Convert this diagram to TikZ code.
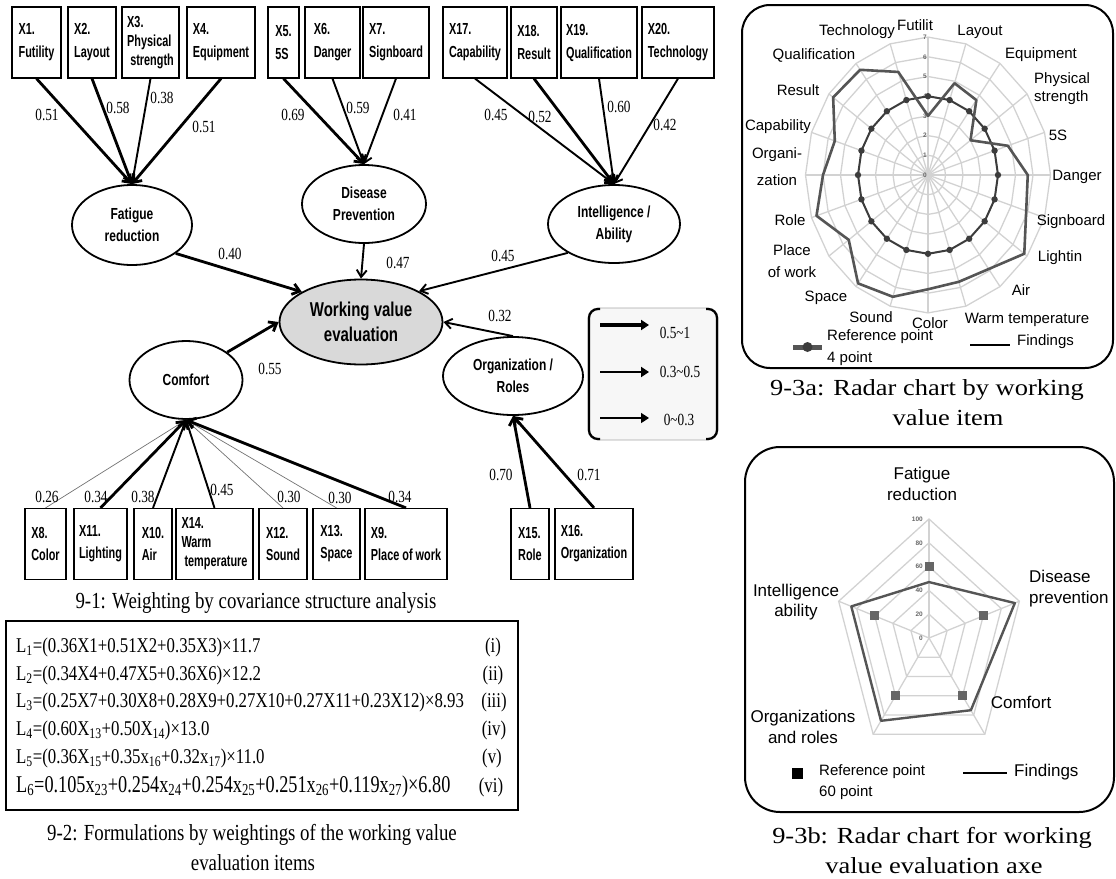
\documentclass[tikz,border=0pt]{standalone}
\usepackage{fontspec}
\setmainfont{Liberation Serif}
\newfontfamily\semfont[FakeStretch=0.75]{Liberation Sans}
\newfontfamily\boxfont[FakeStretch=0.68]{Liberation Sans}
\newfontfamily\numfont[FakeStretch=0.78]{Liberation Serif}
\newfontfamily\capfont[FakeStretch=0.82]{Liberation Serif}
\newfontfamily\eqfont[FakeStretch=0.8]{Liberation Serif}
\newfontfamily\eqwidefont[FakeStretch=0.76]{Liberation Serif}
\newfontfamily\widecapfont[FakeStretch=1.15]{Liberation Serif}
\newfontfamily\chartfont{Liberation Sans}
\usetikzlibrary{arrows.meta,shapes.geometric,calc}
\definecolor{gridgray}{HTML}{D2D2D2}
\definecolor{findgray}{HTML}{555555}
\definecolor{refgray}{HTML}{3C3C3C}
\definecolor{latentfill}{HTML}{D9D9D9}
\definecolor{legendfill}{HTML}{F7F7F7}
\newcommand\ix[1]{\textsubscript{#1}}

\begin{document}
\begin{tikzpicture}[x=1pt,y=-1pt,
  obs/.style={draw, line width=1.2pt, inner sep=0pt, minimum height=71pt, align=left,
    font=\boxfont\bfseries\fontsize{16}{19}\selectfont},
  lat/.style={draw, ellipse, line width=1.8pt, inner sep=0pt, align=center,
    font=\semfont\bfseries\fontsize{16}{22}\selectfont},
  wt/.style={font=\numfont\fontsize{17}{17}\selectfont, inner sep=0pt},
  wstrong/.style={line width=2.8pt, arrows={-Straight Barb[length=7pt,width=11pt]}},
  wmid/.style={line width=1.9pt, arrows={-Straight Barb[length=7pt,width=10pt]}},
  wweak/.style={line width=0.7pt, draw=black!55, arrows={-Straight Barb[length=5pt,width=7pt]}},
  lgarrow/.style={arrows={-Triangle[length=8pt,width=10pt]}},
  lgtext/.style={font=\numfont\fontsize{17}{17}\selectfont, inner sep=0pt},
  eqline/.style={anchor=base west, inner sep=0pt, font=\eqfont\fontsize{21}{21}\selectfont},
  eqnum/.style={anchor=base, inner sep=0pt, font=\eqfont\fontsize{21}{21}\selectfont},
  caption/.style={anchor=base, inner sep=0pt, font=\capfont\fontsize{23}{23}\selectfont},
  widecaption/.style={anchor=base, inner sep=0pt, font=\widecapfont\fontsize{23}{23}\selectfont},
  gridline/.style={draw=gridgray, line width=1.3pt},
  rlab/.style={inner sep=0pt, align=center, font=\chartfont\fontsize{15}{18}\selectfont},
  rlabb/.style={inner sep=0pt, align=center, font=\chartfont\fontsize{17}{21}\selectfont},
  tick/.style={inner sep=0pt, text=black!60, font=\chartfont\bfseries\fontsize{6.5}{7}\selectfont},
  frame/.style={line width=2pt}
]
\useasboundingbox (0,0) rectangle (1116,878);

%% ---------- covariance structure model ----------
% observed variables, top row
\node[obs, minimum width=49pt] (x1)  at (36.5,42.5) {X1.\\[4pt]Futility};
\node[obs, minimum width=48pt] (x2)  at (92,42.5)   {X2.\\[4pt]Layout};
\node[obs, minimum width=57pt] (x3)  at (150.5,42.5){X3.\\Physical\\\ strength};
\node[obs, minimum width=68pt] (x4)  at (221,42.5)  {X4.\\[4pt]Equipment};
\node[obs, minimum width=31pt] (x5)  at (283.5,42.5){X5.\\[4pt]5S};
\node[obs, minimum width=55pt] (x6)  at (332.5,42.5){X6.\\[4pt]Danger};
\node[obs, minimum width=66pt] (x7)  at (396,42.5)  {X7.\\[4pt]Signboard};
\node[obs, minimum width=64pt] (x17) at (475,42.5)  {X17.\\[4pt]Capability};
\node[obs, minimum width=46pt] (x18) at (534,42.5)  {X18.\\[4pt]Result};
\node[obs, minimum width=76pt] (x19) at (599,42.5)  {X19.\\[4pt]Qualification};
\node[obs, minimum width=72pt] (x20) at (678,42.5)  {X20.\\[4pt]Technology};

% observed variables, bottom row
\node[obs, minimum width=41pt] (x8)  at (45.5,544)  {X8.\\[3pt]Color};
\node[obs, minimum width=53pt] (x11) at (100.5,544) {X11.\\[3pt]Lighting};
\node[obs, minimum width=38pt] (x10) at (153,544)   {X10.\\[3pt]Air};
\node[obs, minimum width=77pt] (x14) at (214.5,544) {X14.\\Warm\\\ temperature};
\node[obs, minimum width=48pt] (x12) at (283,544)   {X12.\\[3pt]Sound};
\node[obs, minimum width=47pt] (x13) at (336.5,544) {X13.\\[3pt]Space};
\node[obs, minimum width=82pt] (x9)  at (406,544)   {X9.\\[3pt]Place of work};
\node[obs, minimum width=38pt] (x15) at (530,544)   {X15.\\[3pt]Role};
\node[obs, minimum width=78pt] (x16) at (594,544)   {X16.\\[3pt]Organization};

% latent variables
\node[lat, minimum width=120pt, minimum height=80pt] (fat) at (132,225) {Fatigue\\reduction};
\node[lat, minimum width=124pt, minimum height=78pt] (dis) at (364,204) {Disease\\Prevention};
\node[lat, minimum width=132pt, minimum height=78pt] (int) at (614,224) {Intelligence /\\Ability};
\node[lat, minimum width=113pt, minimum height=78pt] (com) at (186,380) {Comfort};
\node[lat, minimum width=140pt, minimum height=78pt] (org) at (513,376) {Organization /\\Roles};
\node[lat, fill=latentfill, minimum width=163pt, minimum height=85pt,
      font=\semfont\bfseries\fontsize{20}{25}\selectfont] (wve) at (361,322) {Working value\\evaluation};

% loadings onto Fatigue reduction
\draw[wstrong] (x1.south) -- (fat.north);
\draw[wstrong] (x2.south) -- (fat.north);
\draw[wmid]    (x3.south) -- (fat.north);
\draw[wstrong] (x4.south) -- (fat.north);
% loadings onto Disease Prevention
\draw[wstrong] (x5.south) -- (dis.north);
\draw[wmid]    (x6.south) -- (dis.north);
\draw[wmid]    (x7.south) -- (dis.north);
% loadings onto Intelligence / Ability
\draw[wmid]    (x17.south) -- (int.north);
\draw[wstrong] (x18.south) -- (int.north);
\draw[wmid]    (x19.south) -- (int.north);
\draw[wmid]    (x20.south) -- (int.north);
% loadings onto Comfort
\draw[wweak]   (x8.north)  -- (com.south);
\draw[wweak]   (x12.north) -- (com.south);
\draw[wweak]   (x13.north) -- (com.south);
\draw[wmid]    (x10.north) -- (com.south);
\draw[wmid]    (x14.north) -- (com.south);
\draw[wstrong] (x11.north) -- (com.south);
\draw[wstrong] (x9.north)  -- (com.south);
% loadings onto Organization / Roles
\draw[wstrong] (x15.north) -- (org.south);
\draw[wstrong] (x16.north) -- (org.south);
% paths to Working value evaluation
\draw[wstrong] (fat.-33) -- (wve.153);
\draw[wmid]    (dis.south) -- (wve.north);
\draw[wmid]    (int.212) -- (wve.28);
\draw[wmid]    (org.north) -- (wve.east);
\draw[wstrong] (com.34) -- (wve.west);

% coefficients
\node[wt] (c1)  at (47,115)  {0.51};
\node[wt] (c2)  at (118,108) {0.58};
\node[wt] (c3)  at (162,98)  {0.38};
\node[wt] (c4)  at (204,127) {0.51};
\node[wt] (c5)  at (293,115) {0.69};
\node[wt] (c6)  at (358,108) {0.59};
\node[wt] (c7)  at (405,115) {0.41};
\node[wt] (c17) at (496,115) {0.45};
\node[wt] (c18) at (540,117) {0.52};
\node[wt] (c19) at (619,107) {0.60};
\node[wt] (c20) at (665,125) {0.42};
\node[wt] (cf)  at (230,254) {0.40};
\node[wt] (cd)  at (398,263) {0.47};
\node[wt] (ci)  at (503,256) {0.45};
\node[wt] (co)  at (500,316) {0.32};
\node[wt] (cc)  at (270,369) {0.55};
\node[wt] (c8)  at (47,497)  {0.26};
\node[wt] (c11) at (96,497)  {0.34};
\node[wt] (c10) at (143,497) {0.38};
\node[wt] (c14) at (222,490) {0.45};
\node[wt] (c12) at (289,497) {0.30};
\node[wt] (c13) at (340,498) {0.30};
\node[wt] (c9)  at (400,497) {0.34};
\node[wt] (c15) at (501,475) {0.70};
\node[wt] (c16) at (589,475) {0.71};

% key of line weights
\draw[fill=legendfill, draw=black!35, line width=0.8pt, rounded corners=10] (588,308) rectangle (718,440);
\draw[line width=2.2pt, rounded corners=9] (600,309) -- (589,309) -- (589,439) -- (600,439);
\draw[line width=2.2pt, rounded corners=9] (706,309) -- (717,309) -- (717,439) -- (706,439);
\coordinate (k1s) at (600,325); \coordinate (k1e) at (649,325);
\coordinate (k2s) at (600,372); \coordinate (k2e) at (649,372);
\coordinate (k3s) at (600,418); \coordinate (k3e) at (649,418);
\draw[lgarrow, line width=3.6pt] (k1s) -- (k1e);
\draw[lgarrow, line width=2.6pt] (k2s) -- (k2e);
\draw[lgarrow, line width=1.6pt] (k3s) -- (k3e);
\node[lgtext] (k1) at (675,333) {0.5\textasciitilde1};
\node[lgtext] (k2) at (680,372) {0.3\textasciitilde0.5};
\node[lgtext] (k3) at (679,420) {0\textasciitilde0.3};

\node[caption] (cap1) at (256,608) {9-1: Weighting by covariance structure analysis};

%% ---------- formulas ----------
\draw[line width=1.2pt] (6,621) rectangle (518,810);
\node[eqline] (e1) at (16,652) {L\ix{1}=(0.36X1+0.51X2+0.35X3)×11.7};
\node[eqline] (e2) at (16,680) {L\ix{2}=(0.34X4+0.47X5+0.36X6)×12.2};
\node[eqline] (e3) at (16,707) {L\ix{3}=(0.25X7+0.30X8+0.28X9+0.27X10+0.27X11+0.23X12)×8.93};
\node[eqline] (e4) at (16,735) {L\ix{4}=(0.60X\ix{13}+0.50X\ix{14})×13.0};
\node[eqline] (e5) at (16,763) {L\ix{5}=(0.36X\ix{15}+0.35x\ix{16}+0.32x\ix{17})×11.0};
\node[eqline, font=\eqwidefont\fontsize{24}{24}\selectfont] (e6) at (16,792)
  {L\ix{6}=0.105x\ix{23}+0.254x\ix{24}+0.254x\ix{25}+0.251x\ix{26}+0.119x\ix{27})×6.80};
\node[eqnum] (n1) at (493,652) {(i)};
\node[eqnum] (n2) at (493,680) {(ii)};
\node[eqnum] (n3) at (494,707) {(iii)};
\node[eqnum] (n4) at (494,735) {(iv)};
\node[eqnum] (n5) at (492,763) {(v)};
\node[eqnum] (n6) at (491,792) {(vi)};

\node[caption] (cap2a) at (252,840) {9-2: Formulations by weightings of the working value};
\node[caption] (cap2b) at (253,870) {evaluation items};

%% ---------- radar chart by item ----------
\draw[frame, rounded corners=28] (742,5) rectangle (1113,368);
\foreach \r in {1,...,7}
  \draw[gridline] plot[samples at={0,18,...,342}] ({928+17.5*\r*cos(\x)},{175-19.7*\r*sin(\x)}) -- cycle;
\foreach \a in {0,18,...,342}
  \draw[gridline] (928,175) -- ({928+17.5*7*cos(\a)},{175-19.7*7*sin(\a)});
\foreach \v in {0,...,7}
  \node[tick] at (925,{175-19.7*\v}) {\v};
% reference level: 4 points
\draw[refgray, line width=2pt] plot[samples at={0,18,...,342}] ({928+70*cos(\x)},{175-78.8*sin(\x)}) -- cycle;
\foreach \a in {0,18,...,342}
  \fill[refgray] ({928+70*cos(\a)},{175-78.8*sin(\a)}) circle (3.2);
% findings
\foreach \v [count=\i from 0] in {3.0,4.9,4.7,3.0,4.8,5.7,5.9,6.8,5.9,5.7,5.8,6.5,6.8,5.6,6.7,6.0,5.6,6.7,6.6,5.5}
  \coordinate (fa\i) at ({928+17.5*\v*cos(90-18*\i)},{175-19.7*\v*sin(90-18*\i)});
\draw[findgray, line width=2.6pt, line join=round] (fa0) \foreach \i in {1,...,19}{ -- (fa\i)} -- cycle;
% item labels
\node[rlab] (la0)  at (915,25)  {Futilit};
\node[rlab] (la1)  at (980,32)  {Layout};
\node[rlab] (la2)  at (1041,55) {Equipment};
\node[rlab, anchor=west, align=left] (la3) at (1034,89) {Physical\\strength};
\node[rlab] (la4)  at (1058,135) {5S};
\node[rlab] (la5)  at (1077,177) {Danger};
\node[rlab] (la6)  at (1071,222) {Signboard};
\node[rlab] (la7)  at (1060,258) {Lightin};
\node[rlab] (la8)  at (1021,290) {Air};
\node[rlab] (la9)  at (1027,320) {Warm temperature};
\node[rlab] (la10) at (930,323)  {Color};
\node[rlab] (la11) at (871,317)  {Sound};
\node[rlab] (la12) at (826,298)  {Space};
\node[rlab, font=\chartfont\fontsize{15}{22}\selectfont] (la13) at (792,261) {Place\\of work};
\node[rlab] (la14) at (790,220)  {Role};
\node[rlab, font=\chartfont\fontsize{15}{27}\selectfont] (la15) at (777,167) {Organi-\\zation};
\node[rlab] (la16) at (778,127)  {Capability};
\node[rlab] (la17) at (798,90)   {Result};
\node[rlab] (la18) at (814,55)   {Qualification};
\node[rlab] (la19) at (857,32)   {Technology};
% key
\coordinate (ka1) at (793,347); \coordinate (ka2) at (822,347);
\draw[findgray, line width=5pt] (ka1) -- (ka2);
\fill[refgray] ($(ka1)!0.5!(ka2)$) circle (5);
\node[rlab, anchor=west, align=left, font=\chartfont\fontsize{15}{22}\selectfont] (kat) at (827,348) {Reference point\\4 point};
\coordinate (kf1) at (970,345); \coordinate (kf2) at (1010,345);
\draw[line width=2.5pt] (kf1) -- (kf2);
\node[rlab, anchor=west] (kft) at (1017,342) {Findings};

\node[widecaption] (cap3a) at (927,395) {9-3a: Radar chart by working};
\node[widecaption] (cap3b) at (948,425) {value item};

%% ---------- radar chart by evaluation axis ----------
\draw[frame, rounded corners=35] (745,447) rectangle (1114,812);
\foreach \r in {20,40,...,100}
  \draw[gridline] plot[samples at={90,18,-54,-126,162}] ({929+0.95*\r*cos(\x)},{638-1.19*\r*sin(\x)}) -- cycle;
\foreach \a in {90,18,-54,-126,162}
  \draw[gridline] (929,638) -- ({929+95*cos(\a)},{638-119*sin(\a)});
\foreach \v in {0,20,...,100}
  \node[tick, anchor=east] at (923,{638-1.19*\v}) {\v};
% reference level: 60 points
\foreach \a in {90,18,-54,-126,162}
  \fill[black!60] ({929+57*cos(\a)-4.5},{638-71.4*sin(\a)-4.5}) rectangle ++(9,9);
% findings
\foreach \v/\a [count=\i from 0] in {47/90,95/18,75/-54,86/-126,86/162}
  \coordinate (fb\i) at ({929+0.95*\v*cos(\a)},{638-1.19*\v*sin(\a)});
\draw[findgray, line width=2.4pt, line join=round] (fb0) -- (fb1) -- (fb2) -- (fb3) -- (fb4) -- cycle;
% axis labels
\node[rlabb] (lb0) at (922,484) {Fatigue\\reduction};
\node[rlabb, anchor=west, align=left] (lb1) at (1029,589) {Disease\\prevention};
\node[rlabb] (lb2) at (1021,702) {Comfort};
\node[rlabb] (lb3) at (803,727) {Organizations\\and roles};
\node[rlabb, font=\chartfont\fontsize{17}{20}\selectfont] (lb4) at (796,602) {Intelligence\\ability};
% key
\fill (791.5,767.5) rectangle ++(11,11);
\node[rlab, anchor=west, align=left, font=\chartfont\fontsize{15}{21}\selectfont] (kbt) at (819,782) {Reference point\\60 point};
\coordinate (kb1) at (963,773); \coordinate (kb2) at (1007,773);
\draw[line width=2.2pt] (kb1) -- (kb2);
\node[rlabb, anchor=west] (kbf) at (1014,772) {Findings};

\node[widecaption] (cap4a) at (932,843) {9-3b: Radar chart for working};
\node[widecaption] (cap4b) at (934,873) {value evaluation axe};
\end{tikzpicture}
\end{document}
